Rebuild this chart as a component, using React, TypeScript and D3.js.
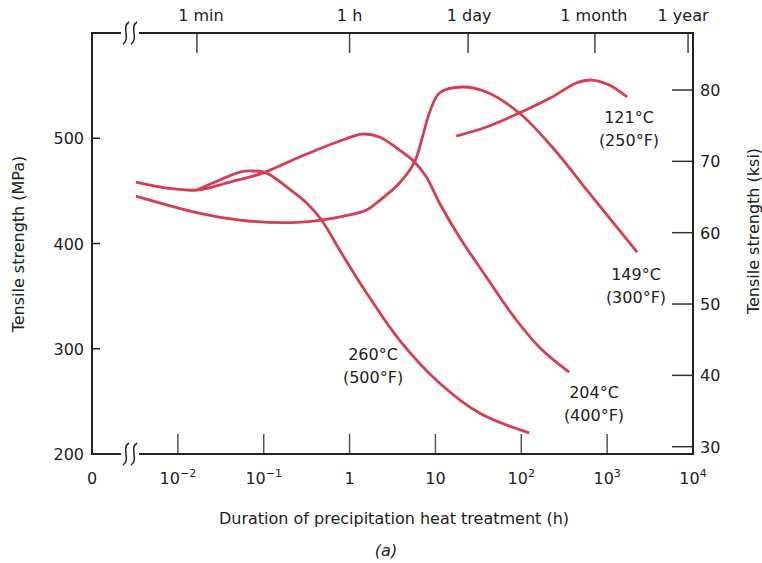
import React from "react";
import * as d3 from "d3";

// Data: duration (hours) vs tensile strength (MPa)
const hours204 = [0.00325, 0.00745, 0.01663, 0.0403, 0.0973, 0.262, 0.83, 1.416, 2.23, 3.81, 5.7, 7.85, 11.14, 19.0, 39.2, 87.5, 175, 361];
const mpa204 = [458.4, 452.7, 450.8, 458.4, 466.9, 482.2, 498.3, 504.0, 501.2, 488.8, 477.4, 463.2, 438.5, 406.2, 368.2, 327.3, 298.8, 277.9];

const hours260 = [0.01663, 0.0308, 0.0526, 0.0745, 0.1084, 0.185, 0.316, 0.472, 0.766, 1.578, 3.81, 11.14, 32.5, 123.9];
const mpa260 = [450.8, 460.3, 467.9, 468.9, 466.9, 453.7, 438.5, 422.3, 393.8, 353.0, 308.3, 267.5, 239.0, 220.0];

const hours149 = [0.00325, 0.01803, 0.0526, 0.1663, 0.472, 1, 1.578, 2.06, 3.81, 5.7, 7.06, 8.51, 11.14, 20.6, 39.2, 94.8, 229, 618, 2234];
const mpa149 = [445.1, 428.7, 422.3, 419.8, 422.3, 427.1, 431.8, 438.5, 457.5, 477.4, 501.2, 524.0, 543.0, 548.7, 543.9, 524.0, 491.7, 448.0, 391.9];

const hours121 = [17.5, 39.2, 94.8, 229, 437, 670, 1054, 1710];
const mpa121 = [502.1, 510.7, 524.0, 539.2, 552.5, 555.3, 550.6, 539.2];

const mpaTicks = [200, 300, 400, 500];
const ksiTicks = [30, 40, 50, 60, 70, 80];
const bottomTickValues = [1e-2, 1e-1, 1, 10, 100, 1000];
const bottomLabels = [
  { v: 1e-3, base: "0", exp: "" },
  { v: 1e-2, base: "10", exp: "\u22122" },
  { v: 1e-1, base: "10", exp: "\u22121" },
  { v: 1, base: "1", exp: "" },
  { v: 10, base: "10", exp: "" },
  { v: 100, base: "10", exp: "2" },
  { v: 1000, base: "10", exp: "3" },
  { v: 10000, base: "10", exp: "4" },
];
const timeMarks = [
  { label: "1 min", h: 1 / 60, dx: 4 },
  { label: "1 h", h: 1, dx: 0 },
  { label: "1 day", h: 24, dx: 1 },
  { label: "1 month", h: 720, dx: -1 },
  { label: "1 year", h: 8760, dx: -5 },
];
const curveLabels = [
  { c: "121°C", f: "(250°F)", h: 1797, m: 514.5 },
  { c: "149°C", f: "(300°F)", h: 2168, m: 365.3 },
  { c: "204°C", f: "(400°F)", h: 703, m: 253.2 },
  { c: "260°C", f: "(500°F)", h: 1.875, m: 289.3 },
];

const FONT = "DejaVu Sans";
const RED = "#d83c52";
const TXT = "#222";

export default function App() {
  const left = 92, right = 693, top = 33, bottom = 454;
  const x = d3.scaleLog().domain([1e-3, 1e4]).range([left, right]);
  const y = d3.scaleLinear().domain([200, 600]).range([bottom, top]);
  const yk = d3.scaleLinear().domain([30, 80]).range([446.7, 90]);

  const line = d3
    .line<[number, number]>()
    .x((d) => x(d[0]))
    .y((d) => y(d[1]))
    .curve(d3.curveCatmullRom.alpha(0.5));

  const series = [
    { h: hours204, m: mpa204 },
    { h: hours260, m: mpa260 },
    { h: hours149, m: mpa149 },
    { h: hours121, m: mpa121 },
  ];

  const breakX = 130;
  const breakMark = (cy: number) => (
    <g>
      <rect x={breakX - 9} y={cy - 3} width={18} height={6} fill="#fff" />
      {[-4, 4].map((dx) => {
        const cx = breakX + dx;
        return (
          <path
            key={dx}
            d={`M${cx + 3},${cy - 11} C${cx - 5},${cy - 6} ${cx + 5},${cy + 6} ${cx - 3},${cy + 11}`}
            fill="none"
            stroke="#222"
            strokeWidth={1.5}
          />
        );
      })}
    </g>
  );

  return (
    <svg
      width={762}
      height={563}
      style={{ position: "absolute", left: 0, top: 0, background: "#fff" }}
      fontFamily={FONT}
    >
      <rect width={762} height={563} fill="#fff" />
      {/* curves */}
      {series.map((s, i) => (
        <path
          key={i}
          d={line(s.h.map((h, j) => [h, s.m[j]] as [number, number])) || ""}
          fill="none"
          stroke={RED}
          strokeWidth={2.8}
          strokeLinecap="butt"
        />
      ))}

      {/* bottom ticks */}
      {bottomTickValues.map((v) => (
        <line key={v} x1={x(v)} x2={x(v)} y1={bottom} y2={bottom - 20} stroke="#555" strokeWidth={1.5} />
      ))}
      {/* top ticks */}
      {timeMarks.map((t) => (
        <line key={t.label} x1={x(t.h)} x2={x(t.h)} y1={top} y2={top + 20} stroke="#444" strokeWidth={1.5} />
      ))}
      {/* left ticks */}
      {mpaTicks.map((v) => (
        <line key={v} x1={left} x2={left + 8} y1={y(v)} y2={y(v)} stroke="#222" strokeWidth={1.5} />
      ))}
      {/* right ticks */}
      {ksiTicks.map((v) => (
        <line key={v} x1={right - 21} x2={right} y1={yk(v)} y2={yk(v)} stroke="#333" strokeWidth={1.5} />
      ))}

      {/* frame */}
      <path
        d={`M${left},${top} L${right},${top} L${right},${bottom} L${left},${bottom} Z`}
        fill="none"
        stroke="#222"
        strokeWidth={2}
      />
      {breakMark(top)}
      {breakMark(bottom)}

      {/* left labels */}
      {mpaTicks.map((v) => (
        <text key={v} x={84} y={y(v) + 6} textAnchor="end" fontSize={16} fill={TXT}>
          {v}
        </text>
      ))}
      {/* right labels */}
      {ksiTicks.map((v) => (
        <text key={v} x={700} y={yk(v) + 6} textAnchor="start" fontSize={16} fill={TXT}>
          {v}
        </text>
      ))}
      {/* bottom labels */}
      {bottomLabels.map((b) => (
        <text key={b.v} x={x(b.v)} y={484} textAnchor="middle" fontSize={16} fill={TXT}>
          {b.base}
          {b.exp && (
            <tspan fontSize={11} dy={-7}>
              {b.exp}
            </tspan>
          )}
        </text>
      ))}
      {/* top labels */}
      {timeMarks.map((t) => (
        <text key={t.label} x={x(t.h) + t.dx} y={21} textAnchor="middle" fontSize={16} fill={TXT}>
          {t.label}
        </text>
      ))}

      {/* axis titles */}
      <text
        transform={`translate(24,244) rotate(-90)`}
        textAnchor="middle"
        fontSize={16}
        fill={TXT}
      >
        Tensile strength (MPa)
      </text>
      <text
        transform={`translate(759,231) rotate(-90)`}
        textAnchor="middle"
        fontSize={16}
        fill={TXT}
      >
        Tensile strength (ksi)
      </text>
      <text x={394} y={524} textAnchor="middle" fontSize={16} fill={TXT}>
        Duration of precipitation heat treatment (h)
      </text>
      <text x={386} y={556} textAnchor="middle" fontSize={16} fontStyle="italic" fill={TXT}>
        (a)
      </text>

      {/* curve labels */}
      {curveLabels.map((c) => (
        <g key={c.c}>
          <text x={x(c.h)} y={y(c.m)} textAnchor="middle" fontSize={16} fill={TXT}>
            {c.c}
          </text>
          <text x={x(c.h)} y={y(c.m) + 23} textAnchor="middle" fontSize={16} fill={TXT}>
            {c.f}
          </text>
        </g>
      ))}
    </svg>
  );
}
